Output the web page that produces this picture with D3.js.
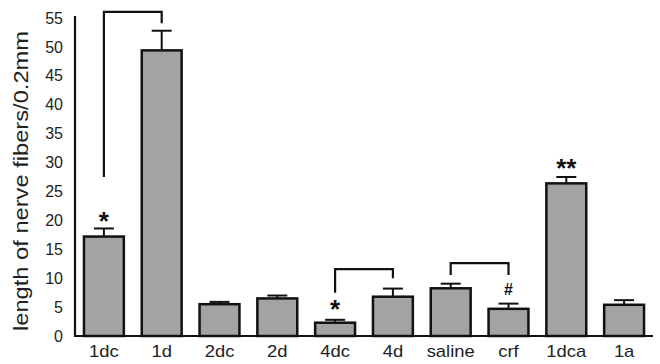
<!DOCTYPE html>
<html>
<head>
<meta charset="utf-8">
<script src="https://cdn.jsdelivr.net/npm/d3@7"></script>
<style>
  body { margin: 0; background: #fff; }
  svg { display: block; font-family: "Liberation Sans", Arial, sans-serif; }
</style>
</head>
<body>
<svg id="chart" width="660" height="364"></svg>
<script>
// groups along the x axis
var groups = ['1dc', '1d', '2dc', '2d', '4dc', '4d', 'saline', 'crf', '1dca', '1a'];
// mean length and top of error bar
var means = [17.2, 49.4, 5.5, 6.5, 2.3, 6.8, 8.25, 4.7, 26.4, 5.4];
var errTops = [18.6, 52.8, 5.9, 7.0, 2.8, 8.2, 9.05, 5.6, 27.5, 6.2];
var yTicks = [0, 5, 10, 15, 20, 25, 30, 35, 40, 45, 50, 55];

// significance brackets: from, to, top, left leg end, right leg end
var brackets = [
    { from: '1dc', to: '1d', top: 56.05, left: 27.5, right: 54.1 },
    { from: '4dc', to: '4d', top: 11.55, left: 7.5, right: 10.0 },
    { from: 'saline', to: 'crf', top: 12.6, left: 10.55, right: 10.55 }
];
// marks above bars
var markGroups = ['1dc', '4dc', 'crf', '1dca'];
var markTexts = ['*', '*', '#', '**'];
var markValues = [20.1, 4.8, 8.0, 29.2];

var svg = d3.select('#chart');

var x = d3.scaleBand()
    .domain(groups)
    .range([75, 653])
    .paddingInner(0.31)
    .paddingOuter(0.155);

var y = d3.scaleLinear()
    .domain([0, 55])
    .range([336, 18]);

var cx = function (g) { return x(g) + x.bandwidth() / 2; };

// y axis
var yAxis = svg.append('g')
    .attr('transform', 'translate(75,0)')
    .call(d3.axisLeft(y).tickValues(yTicks).tickSize(0).tickPadding(12));
yAxis.select('.domain').remove();
yAxis.selectAll('text')
    .attr('font-size', 16)
    .attr('font-family', '"Liberation Sans", Arial, sans-serif')
    .attr('fill', '#222');
svg.append('line')
    .attr('x1', 75).attr('x2', 75)
    .attr('y1', y(55) - 2).attr('y2', y(0) + 1)
    .attr('stroke', '#111').attr('stroke-width', 2.2);

// y label
svg.append('text')
    .attr('transform', 'translate(28,331) rotate(-90)')
    .attr('text-anchor', 'start')
    .attr('font-size', 21)
    .attr('fill', '#222')
    .attr('textLength', 300)
    .attr('lengthAdjust', 'spacingAndGlyphs')
    .text('length of nerve fibers/0.2mm');

// bars
svg.selectAll('.bar')
    .data(groups)
    .enter()
    .append('rect')
    .attr('class', 'bar')
    .attr('x', function (d) { return x(d); })
    .attr('y', function (d, i) { return y(means[i]); })
    .attr('width', x.bandwidth())
    .attr('height', function (d, i) { return y(0) - y(means[i]); })
    .attr('fill', '#a3a3a3')
    .attr('stroke', '#111')
    .attr('stroke-width', 2.5);

// error bars (upper only)
var err = svg.selectAll('.err')
    .data(groups)
    .enter()
    .append('g')
    .attr('class', 'err')
    .attr('stroke', '#111')
    .attr('stroke-width', 2);
err.append('line')
    .attr('x1', cx).attr('x2', cx)
    .attr('y1', function (d, i) { return y(means[i]); })
    .attr('y2', function (d, i) { return y(errTops[i]); });
err.append('line')
    .attr('x1', function (d) { return cx(d) - 10; })
    .attr('x2', function (d) { return cx(d) + 10; })
    .attr('y1', function (d, i) { return y(errTops[i]); })
    .attr('y2', function (d, i) { return y(errTops[i]); });

// x axis baseline
svg.append('line')
    .attr('x1', 74).attr('x2', 653)
    .attr('y1', y(0)).attr('y2', y(0))
    .attr('stroke', '#111').attr('stroke-width', 2.2);

// x labels
svg.selectAll('.xlab')
    .data(groups)
    .enter()
    .append('text')
    .attr('class', 'xlab')
    .attr('transform', function (d) { return 'translate(' + cx(d) + ',357) scale(1.15,1)'; })
    .attr('text-anchor', 'middle')
    .attr('font-size', 16)
    .attr('fill', '#222')
    .text(function (d) { return d; });

// brackets
svg.selectAll('.bracket')
    .data(brackets)
    .enter()
    .append('path')
    .attr('class', 'bracket')
    .attr('fill', 'none')
    .attr('stroke', '#111')
    .attr('stroke-width', 2.2)
    .attr('d', function (b) {
        var x1 = cx(b.from), x2 = cx(b.to);
        return 'M' + x1 + ',' + y(b.left) + 'L' + x1 + ',' + y(b.top) +
            'L' + x2 + ',' + y(b.top) + 'L' + x2 + ',' + y(b.right);
    });

// significance marks
svg.selectAll('.mark')
    .data(markGroups)
    .enter()
    .append('text')
    .attr('class', 'mark')
    .attr('x', cx)
    .attr('y', function (d, i) {
        return y(markValues[i]) + (markTexts[i] == '#' ? 5.5 : 10);
    })
    .attr('text-anchor', 'middle')
    .attr('font-size', function (d, i) { return markTexts[i] == '#' ? 16 : 26; })
    .attr('font-weight', 'bold')
    .attr('fill', '#111')
    .text(function (d, i) { return markTexts[i]; });
</script>
</body>
</html>
